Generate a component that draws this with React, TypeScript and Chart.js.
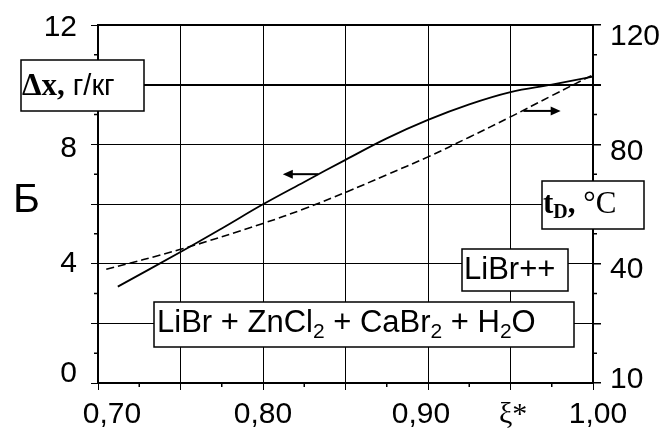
import React, { useEffect, useRef } from 'react';
import { Chart, registerables } from 'chart.js';

Chart.register(...registerables);

// ---- data ----
const xiSolid = [0.712, 0.75, 0.775, 0.80, 0.825, 0.85, 0.875, 0.90, 0.925, 0.95, 0.975, 1.00];
const deltaX = [3.23, 4.39, 5.18, 5.99, 6.74, 7.48, 8.20, 8.82, 9.34, 9.75, 10.0, 10.27];

const xiDashed = [0.705, 0.75, 0.80, 0.825, 0.85, 0.875, 0.90, 0.925, 0.95, 0.975, 1.00];
const tD = [38.1, 44.8, 53.5, 58.4, 63.9, 69.8, 75.8, 82.4, 89.2, 96.3, 103.3];

const xTickValues = [0.7, 0.8, 0.9, 1.0];
const xTickLabels = ['0,70', '0,80', '0,90', '1,00'];
const leftTickValues = [0, 4, 8, 12];
const leftTickLabels = ['0', '4', '8', '12'];
const rightTickValues = [0, 40, 80, 120];
const rightTickLabels = ['10', '40', '80', '120'];

const SANS = '"Liberation Sans", Arial, sans-serif';
const SERIF = '"Liberation Serif", "Times New Roman", serif';

function drawBox(ctx: CanvasRenderingContext2D, l: number, t: number, w: number, h: number) {
  ctx.fillStyle = '#fff';
  ctx.fillRect(l, t, w, h);
  ctx.strokeStyle = '#000';
  ctx.lineWidth = 1.5;
  ctx.strokeRect(l, t, w, h);
}

function richText(ctx: CanvasRenderingContext2D, x: number, y: number, segs: [string, string, number][]) {
  let cx = x;
  ctx.fillStyle = '#000';
  ctx.textAlign = 'left';
  ctx.textBaseline = 'alphabetic';
  for (const [t, f, dy] of segs) {
    ctx.font = f;
    ctx.fillText(t, cx, y + dy);
    cx += ctx.measureText(t).width;
  }
}

function arrow(ctx: CanvasRenderingContext2D, x1: number, y1: number, x2: number, y2: number) {
  const dir = Math.sign(x2 - x1);
  ctx.strokeStyle = '#000';
  ctx.fillStyle = '#000';
  ctx.lineWidth = 2;
  ctx.beginPath();
  ctx.moveTo(x1, y1);
  ctx.lineTo(x2 - dir * 6, y2);
  ctx.stroke();
  ctx.beginPath();
  ctx.moveTo(x2, y2);
  ctx.lineTo(x2 - dir * 10, y2 - 4.5);
  ctx.lineTo(x2 - dir * 10, y2 + 4.5);
  ctx.closePath();
  ctx.fill();
}

// small per-label nudges mimicking the original spreadsheet label placement
const X_NUDGE = [14, 0, -7, 5];
const LEFT_NUDGE = [-12, -2, 2, 0];
const RIGHT_NUDGE = [-6, 4, 5, 9];

const decor = {
  id: 'decor',
  afterDraw(chart: any) {
    const ctx: CanvasRenderingContext2D = chart.ctx;
    const a = chart.chartArea;
    const xs = chart.scales.x;
    const ys = chart.scales.y;
    const y2s = chart.scales.y2;
    ctx.save();
    // top frame
    ctx.strokeStyle = '#000';
    ctx.lineWidth = 2;
    ctx.beginPath();
    ctx.moveTo(a.left - 1, a.top);
    ctx.lineTo(a.right + 1, a.top);
    ctx.stroke();

    // minor ticks
    ctx.lineWidth = 1.5;
    ctx.beginPath();
    for (let i = 0; i < 6; i++) {
      const px = xs.getPixelForValue(0.725 + i * 0.05);
      ctx.moveTo(px, a.bottom);
      ctx.lineTo(px, a.bottom + 4);
    }
    for (let v = 1; v < 12; v += 2) {
      const py = ys.getPixelForValue(v);
      ctx.moveTo(a.left - 4, py);
      ctx.lineTo(a.left, py);
    }
    for (let v = 10; v < 120; v += 20) {
      const py = y2s.getPixelForValue(v);
      ctx.moveTo(a.right, py);
      ctx.lineTo(a.right + 4, py);
    }
    ctx.stroke();

    // tick labels
    ctx.fillStyle = '#000';
    ctx.font = `30px ${SANS}`;
    ctx.textBaseline = 'alphabetic';
    ctx.textAlign = 'center';
    xTickValues.forEach((v, i) => {
      ctx.fillText(xTickLabels[i], xs.getPixelForValue(v) + X_NUDGE[i], a.bottom + 40);
    });
    ctx.textAlign = 'right';
    leftTickValues.forEach((v, i) => {
      ctx.fillText(leftTickLabels[i], a.left - 21, ys.getPixelForValue(v) + 10.5 + LEFT_NUDGE[i]);
    });
    ctx.textAlign = 'left';
    rightTickValues.forEach((v, i) => {
      ctx.fillText(rightTickLabels[i], a.right + 17, y2s.getPixelForValue(v) + 10.5 + RIGHT_NUDGE[i]);
    });

    // arrows
    arrow(ctx, xs.getPixelForValue(0.8335), ys.getPixelForValue(7.0), xs.getPixelForValue(0.812), ys.getPixelForValue(7.0));
    arrow(ctx, xs.getPixelForValue(0.9578), y2s.getPixelForValue(91.2), xs.getPixelForValue(0.9804), y2s.getPixelForValue(91.2));

    // label boxes
    drawBox(ctx, 21, 60, 123, 51);
    richText(ctx, 22, 95, [
      ['\u0394x,', `bold 31px ${SERIF}`, 0],
      [' г/кг', `29px ${SANS}`, 0],
    ]);

    drawBox(ctx, 542, 181, 102, 48);
    richText(ctx, 543, 213, [
      ['t', `bold 31px ${SERIF}`, 0],
      ['D', `bold 20px ${SERIF}`, 5],
      [',', `bold 31px ${SERIF}`, 0],
      [' °C', `31px ${SERIF}`, 0],
    ]);

    drawBox(ctx, 462, 249, 106, 42);
    richText(ctx, 464, 279, [['LiBr++', `31px ${SANS}`, 0]]);

    drawBox(ctx, 154, 302, 420, 45);
    richText(ctx, 157, 332, [
      ['LiBr + ZnCl', `31px ${SANS}`, 0],
      ['2', `21px ${SANS}`, 6],
      [' + CaBr', `31px ${SANS}`, 0],
      ['2', `21px ${SANS}`, 6],
      [' + H', `31px ${SANS}`, 0],
      ['2', `21px ${SANS}`, 6],
      ['O', `31px ${SANS}`, 0],
    ]);

    // Б
    richText(ctx, 13, 212, [['Б', `41px ${SANS}`, 0]]);
    // ξ*
    richText(ctx, 499, 423, [['ξ*', `30px ${SERIF}`, 0]]);

    ctx.restore();
  },
};

export default function App() {
  const ref = useRef<HTMLCanvasElement | null>(null);

  useEffect(() => {
    if (!ref.current) return;
    const chart = new Chart(ref.current, {
      type: 'line',
      data: {
        datasets: [
          {
            data: xiSolid.map((x, i) => ({ x, y: deltaX[i] })),
            yAxisID: 'y',
            borderColor: '#000',
            borderWidth: 1.8,
            pointRadius: 0,
            tension: 0.4,
            fill: false,
          },
          {
            data: xiDashed.map((x, i) => ({ x, y: tD[i] })),
            yAxisID: 'y2',
            borderColor: '#000',
            borderWidth: 1.6,
            borderDash: [8, 4],
            pointRadius: 0,
            tension: 0.4,
            fill: false,
          },
        ],
      },
      options: {
        animation: false,
        responsive: false,
        events: [],
        layout: { padding: { top: 25, left: 0, right: 0, bottom: 0 } },
        plugins: { legend: { display: false }, tooltip: { enabled: false } },
        scales: {
          x: {
            type: 'linear',
            min: 0.7,
            max: 1.0,
            afterFit: (s: any) => { s.height = 51; },
            ticks: { stepSize: 0.05, autoSkip: false, maxRotation: 0, display: false },
            grid: { color: '#000', lineWidth: 1, tickLength: 7 },
            border: { display: true, color: '#000', width: 2 },
          },
          y: {
            type: 'linear',
            position: 'left',
            min: 0,
            max: 12,
            afterFit: (s: any) => { s.width = 98; },
            ticks: { stepSize: 2, autoSkip: false, display: false },
            grid: {
              color: '#000',
              lineWidth: (c: any) => (c.tick && c.tick.value === 10 ? 2 : 1),
              tickLength: 7,
            },
            border: { display: true, color: '#000', width: 2 },
          },
          y2: {
            type: 'linear',
            position: 'right',
            min: 0,
            max: 120,
            afterFit: (s: any) => { s.width = 68; },
            ticks: { stepSize: 20, autoSkip: false, display: false },
            grid: {
              drawOnChartArea: false,
              color: '#000',
              lineWidth: (c: any) => (c.tick && c.tick.value === 100 ? 2 : 1.5),
              tickLength: 8,
            },
            border: { display: true, color: '#000', width: 2 },
          },
        },
      },
      plugins: [decor],
    } as any);
    return () => chart.destroy();
  }, []);

  return (
    <div style={{ position: 'absolute', left: 0, top: 0, width: 661, height: 434, background: '#fff' }}>
      <canvas ref={ref} width={661} height={434} />
    </div>
  );
}
